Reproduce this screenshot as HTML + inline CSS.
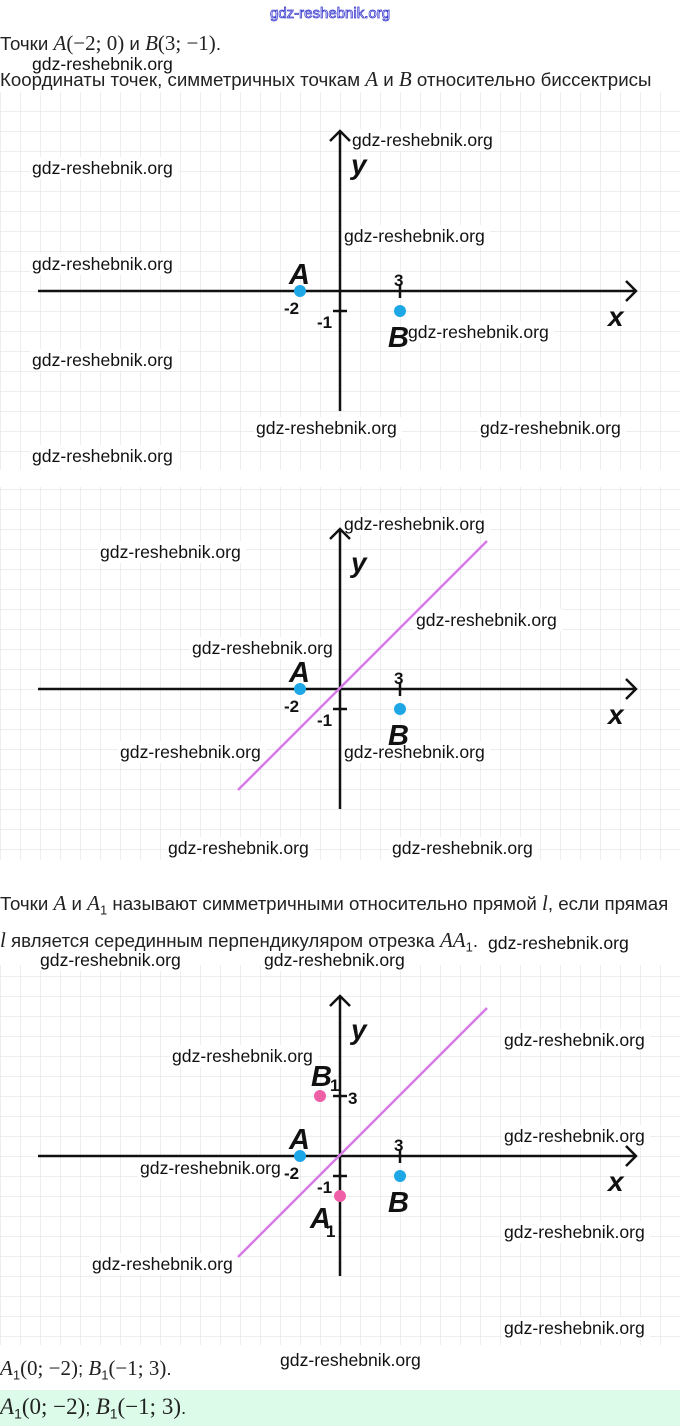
<!DOCTYPE html>
<html><head><meta charset="utf-8"><style>
body{margin:0;width:680px;height:1426px;overflow:hidden;background:#fff;position:relative;font-family:"Liberation Sans","DejaVu Sans",sans-serif}
.t{position:absolute;left:0;font-size:18.7px;color:#222;white-space:nowrap}
.m{font-family:"Liberation Serif",serif;font-style:italic;font-size:21px}
.n{font-family:"Liberation Serif",serif;font-size:21px}
</style></head><body>
<svg width="680" height="1426" style="position:absolute;left:0;top:0" xmlns="http://www.w3.org/2000/svg">
<defs>
<pattern id="g1" x="0" y="11" width="20" height="20" patternUnits="userSpaceOnUse"><path d="M0 0H20M0 0V20" stroke="#e4e4e4" stroke-width="1.3" fill="none"/></pattern>
<pattern id="g2" x="0" y="9" width="20" height="20" patternUnits="userSpaceOnUse"><path d="M0 0H20M0 0V20" stroke="#e4e4e4" stroke-width="1.3" fill="none"/></pattern>
<pattern id="g3" x="0" y="16" width="20" height="20" patternUnits="userSpaceOnUse"><path d="M0 0H20M0 0V20" stroke="#e4e4e4" stroke-width="1.3" fill="none"/></pattern>
</defs>
<rect x="0" y="92" width="680" height="378" fill="url(#g1)"/>
<rect x="0" y="487" width="680" height="373" fill="url(#g2)"/>
<rect x="0" y="965" width="680" height="380" fill="url(#g3)"/>
<rect x="0" y="1390" width="680" height="36" fill="#dcfbe9"/>

<g fill="#fff">
<rect x="30" y="157" width="148" height="22"/><rect x="350" y="129" width="148" height="22"/><rect x="342" y="225" width="148" height="22"/><rect x="30" y="253" width="148" height="22"/><rect x="406" y="321" width="148" height="22"/><rect x="30" y="349" width="148" height="22"/><rect x="254" y="417" width="148" height="22"/><rect x="478" y="417" width="148" height="22"/><rect x="30" y="445" width="148" height="22"/>
<rect x="342" y="513" width="148" height="22"/><rect x="98" y="541" width="148" height="22"/><rect x="414" y="609" width="148" height="22"/><rect x="190" y="637" width="148" height="22"/><rect x="118" y="741" width="148" height="22"/><rect x="342" y="741" width="148" height="22"/><rect x="166" y="837" width="148" height="22"/><rect x="390" y="837" width="148" height="22"/>
<rect x="38" y="949" width="148" height="22"/><rect x="262" y="949" width="148" height="22"/>
<rect x="502" y="1029" width="148" height="22"/><rect x="170" y="1045" width="148" height="22"/><rect x="502" y="1125" width="148" height="22"/><rect x="138" y="1157" width="148" height="22"/><rect x="502" y="1221" width="148" height="22"/><rect x="90" y="1253" width="148" height="22"/><rect x="502" y="1317" width="148" height="22"/>
</g>

<g stroke="#111" stroke-width="2.5" fill="none">
<path d="M38 291H636M626 281L636 291L626 301"/>
<path d="M340 411V131M330 141L340 131L350 141"/>
<path d="M333 311H347M400 284V298"/>
<path d="M38 689H636M626 679L636 689L626 699"/>
<path d="M340 809V529M330 539L340 529L350 539"/>
<path d="M333 709H347M400 682V696"/>
<path d="M38 1156H636M626 1146L636 1156L626 1166"/>
<path d="M340 1276V996M330 1006L340 996L350 1006"/>
<path d="M333 1176H347M400 1149V1163M333 1096H347"/>
</g>
<path d="M238 790L487 541M238 1257L487 1008" stroke="#d67ae6" stroke-width="2.5"/>
<g fill="#1ea7e6">
<circle cx="300" cy="291" r="6"/><circle cx="400" cy="311" r="6"/>
<circle cx="300" cy="689" r="6"/><circle cx="400" cy="709" r="6"/>
<circle cx="300" cy="1156" r="6"/><circle cx="400" cy="1176" r="6"/>
</g>
<g fill="#ee5fa8"><circle cx="320" cy="1096" r="6"/><circle cx="340" cy="1196" r="6"/></g>

<g font-family="Liberation Sans,sans-serif" fill="#111">
<g font-size="29" font-style="italic" font-weight="bold">
<text x="289" y="284">A</text><text x="388" y="347">B</text><text x="351" y="174" font-size="28">y</text><text x="608" y="326" font-size="28">x</text>
<text x="289" y="682">A</text><text x="388" y="745">B</text><text x="351" y="572" font-size="28">y</text><text x="608" y="724" font-size="28">x</text>
<text x="289" y="1149">A</text><text x="388" y="1212">B</text><text x="351" y="1039" font-size="28">y</text><text x="608" y="1191" font-size="28">x</text>
<text x="311" y="1086">B</text><text x="310" y="1228">A</text>
</g>
<g font-size="17" font-weight="bold">
<text x="284" y="314">-2</text><text x="317" y="328">-1</text><text x="394" y="286">3</text>
<text x="284" y="712">-2</text><text x="317" y="726">-1</text><text x="394" y="684">3</text>
<text x="284" y="1179">-2</text><text x="317" y="1193">-1</text><text x="394" y="1151">3</text>
<text x="348" y="1104">3</text><text x="330" y="1091">1</text><text x="326" y="1237">1</text>
</g>
<g font-size="17.6">
<text x="32" y="174">gdz-reshebnik.org</text><text x="352" y="146">gdz-reshebnik.org</text><text x="344" y="242">gdz-reshebnik.org</text><text x="32" y="270">gdz-reshebnik.org</text><text x="408" y="338">gdz-reshebnik.org</text><text x="32" y="366">gdz-reshebnik.org</text><text x="256" y="434">gdz-reshebnik.org</text><text x="480" y="434">gdz-reshebnik.org</text><text x="32" y="462">gdz-reshebnik.org</text>
<text x="344" y="530">gdz-reshebnik.org</text><text x="100" y="558">gdz-reshebnik.org</text><text x="416" y="626">gdz-reshebnik.org</text><text x="192" y="654">gdz-reshebnik.org</text><text x="120" y="758">gdz-reshebnik.org</text><text x="344" y="758">gdz-reshebnik.org</text><text x="168" y="854">gdz-reshebnik.org</text><text x="392" y="854">gdz-reshebnik.org</text>
<text x="488" y="949">gdz-reshebnik.org</text><text x="40" y="966">gdz-reshebnik.org</text><text x="264" y="966">gdz-reshebnik.org</text>
<text x="504" y="1046">gdz-reshebnik.org</text><text x="172" y="1062">gdz-reshebnik.org</text><text x="504" y="1142">gdz-reshebnik.org</text><text x="140" y="1174">gdz-reshebnik.org</text><text x="504" y="1238">gdz-reshebnik.org</text><text x="92" y="1270">gdz-reshebnik.org</text><text x="504" y="1334">gdz-reshebnik.org</text><text x="280" y="1366">gdz-reshebnik.org</text>
<text x="32" y="70">gdz-reshebnik.org</text>
</g>
<text x="270" y="18" font-size="15" fill="#fff" stroke="#3a3ad0" stroke-width="0.8">gdz-reshebnik.org</text>
</g>
</svg>
<div class="t" style="top:31px">Точки <span class="m">A</span><span class="n">(−2; 0)</span> и <span class="m">B</span><span class="n">(3; −1)</span>.</div>
<div class="t" style="top:67px">Координаты точек, симметричных точкам <span class="m">A</span> и <span class="m">B</span> относительно биссектрисы</div>
<div class="t" style="top:891px">Точки <span class="m">A</span> и <span class="m">A</span><sub style="font-size:13px">1</sub> называют симметричными относительно прямой <span class="m">l</span>, если прямая</div>
<div class="t" style="top:928px"><span class="m">l</span> является серединным перпендикуляром отрезка <span class="m">AA</span><sub style="font-size:13px">1</sub>.</div>
<div class="t" style="top:1356px"><span class="m">A</span><sub style="font-size:13px">1</sub><span class="n">(0; −2)</span>; <span class="m">B</span><sub style="font-size:13px">1</sub><span class="n">(−1; 3)</span>.</div>
<div class="t" style="top:1394px"><span class="m" style="font-size:23px">A</span><sub style="font-size:14px">1</sub><span class="n" style="font-size:23px">(0; −2)</span>; <span class="m" style="font-size:23px">B</span><sub style="font-size:14px">1</sub><span class="n" style="font-size:23px">(−1; 3)</span>.</div>
</body></html>
